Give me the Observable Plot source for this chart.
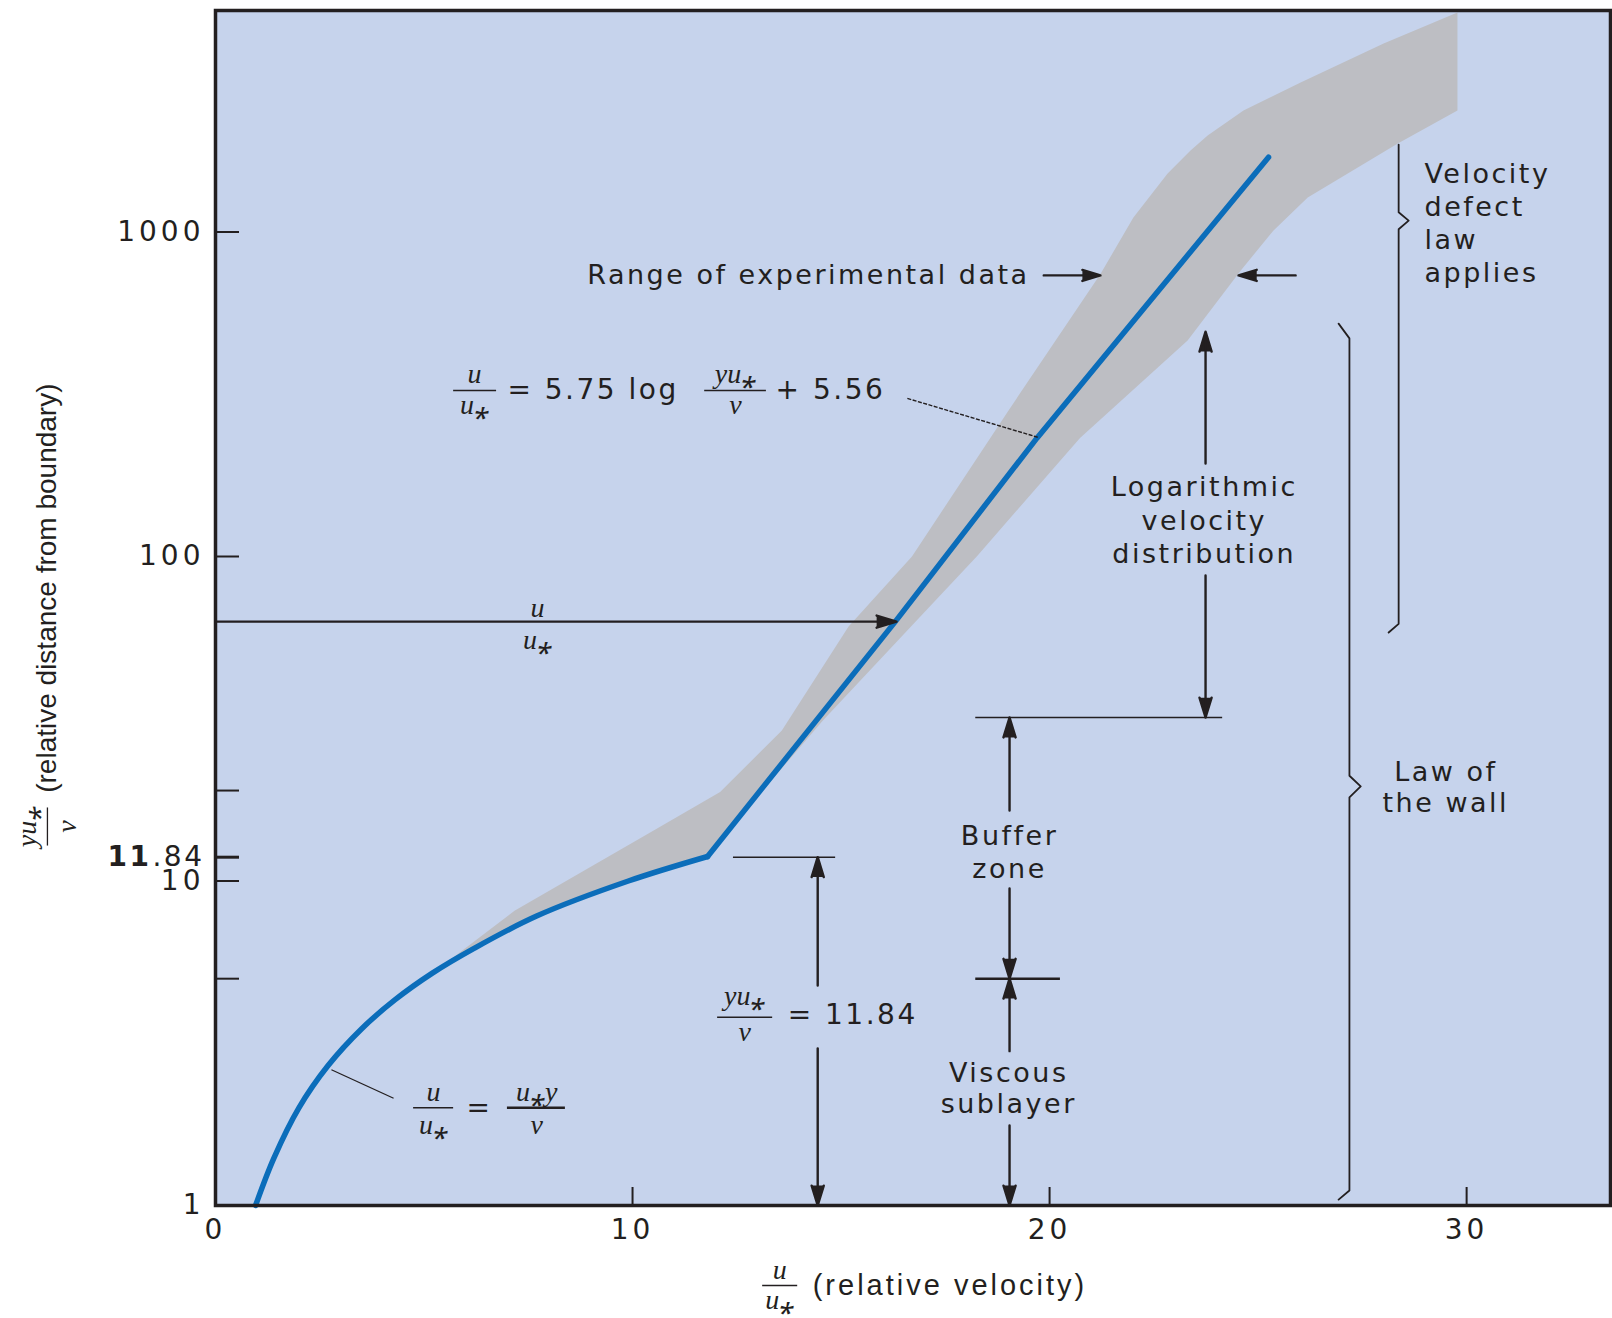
<!DOCTYPE html>
<html>
<head>
<meta charset="utf-8">
<script src="https://cdn.jsdelivr.net/npm/d3@7"></script>
<script src="https://cdn.jsdelivr.net/npm/@observablehq/plot@0.6"></script>
<style>
  html, body { margin: 0; padding: 0; background: #ffffff; }
  g[font-family="DejaVu Sans"] text { letter-spacing: 2.5px; }
  g[aria-label="y-axis tick label"] text, g[aria-label="x-axis tick label"] text { letter-spacing: 4px; }
</style>
</head>
<body>
<div id="chart"></div>
<script>
// ---------------- data ----------------
const xTicks = [0, 10, 20, 30];
const yTickValues = [1, 5, 10, 100, 1000];
const yTickLabels = ["1", "5", "10", "100", "1000"];
const yExtraTicks = [11.84, 19];

// blue curve, viscous sublayer part (u/u* = u*y/v)
const viscousX = [0.96, 1.4, 2.0, 2.7, 3.5, 4.3, 5.2, 6.2, 7.7, 9.9, 11.8];
const viscousY = [1.0, 1.4, 2.0, 2.7, 3.5, 4.3, 5.2, 6.2, 7.8, 10.0, 11.9];
// blue curve, logarithmic part
const logLawX = [11.8, 16.3, 19.7, 25.25];
const logLawY = [11.9, 63, 232, 1700];

// range of experimental data (grey band)
const bandUpperX = [5.2, 7.17, 10.62, 12.1, 13.58, 15.18, 16.7, 19.0, 21.22, 22.01, 22.83, 23.38, 23.79, 24.65, 26.02, 28.01, 29.78];
const bandUpperY = [5.2, 8.1, 14.6, 18.8, 29.1, 60.9, 100, 280, 742, 1109, 1514, 1783, 1983, 2367, 2890, 3811, 4750];
const bandLowerX = [29.78, 28.35, 26.19, 25.37, 24.58, 23.31, 20.73, 18.27, 16.79, 14.57, 12.8, 11.8];
const bandLowerY = [2367, 1875, 1277, 1011, 760, 463, 232, 100.6, 63.0, 31.3, 17, 11.9];

// ---------------- layout / style ----------------
const W = 1612, H = 1318;
const mL = 215, mR = 2, mT = 10, mB = 113;
const frameW = W - mL - mR, frameH = H - mT - mB;
const ink = "#231f20";
const plotBg = "#c6d3ec";
const bandFill = "#bdbec3";
const blue = "#0b6dba";
const sans = "DejaVu Sans";
const serif = "Liberation Serif";

const pts = (xs, ys) => xs.map((x, i) => ({x, y: ys[i]}));
const viscous = pts(viscousX, viscousY);
const logLaw = pts(logLawX, logLawY);
const band = [
  ...pts(bandUpperX, bandUpperY),
  ...pts(bandLowerX, bandLowerY),
  ...viscous.filter(d => d.x > 5.5 && d.x < 11).reverse()
];

// annotation geometry (data coordinates)
const arrows = [
  {x1: 0, y1: 63, x2: 16.33, y2: 63},
  {x1: 19.86, y1: 735, x2: 21.22, y2: 735},
  {x1: 25.9, y1: 735, x2: 24.53, y2: 735},
  {x1: 23.74, y1: 193.5, x2: 23.74, y2: 493},
  {x1: 23.74, y1: 87.4, x2: 23.74, y2: 31.9},
  {x1: 19.04, y1: 16.5, x2: 19.04, y2: 31.9},
  {x1: 19.04, y1: 9.48, x2: 19.04, y2: 5},
  {x1: 19.04, y1: 2.99, x2: 19.04, y2: 5},
  {x1: 19.04, y1: 1.764, x2: 19.04, y2: 1},
  {x1: 14.44, y1: 4.76, x2: 14.44, y2: 11.84},
  {x1: 14.44, y1: 3.05, x2: 14.44, y2: 1}
];
const hRules = [
  {x1: 18.23, x2: 24.15, y: 31.9, w: 1.6},
  {x1: 18.23, x2: 20.26, y: 5, w: 2.6},
  {x1: 12.42, x2: 14.87, y: 11.84, w: 1.6},
  // fraction bars
  {x1: 5.71, x2: 6.74, y: 325, w: 1.5},
  {x1: 11.73, x2: 13.21, y: 325, w: 1.5},
  {x1: 12.04, x2: 13.36, y: 3.80, w: 1.5},
  {x1: 4.75, x2: 5.71, y: 2.0, w: 1.5},
  {x1: 7.0, x2: 8.39, y: 2.0, w: 2.6},
  {x1: 13.12, x2: 13.96, y: 0.567, w: 1.5}
];
const leaderEq = [{x1: 16.59, y1: 307, x2: 19.74, y2: 232.6}];
const leaders = [
  {x1: 2.78, y1: 2.62, x2: 4.27, y2: 2.14},
  {x1: -4.03, y1: 16.85, x2: -4.03, y2: 12.86}
];
const braceDefect = pts(
  [28.37, 28.37, 28.61, 28.37, 28.37, 28.13],
  [1860, 1150, 1084, 1020, 62, 58.3]
);
const braceWall = pts(
  [26.93, 27.19, 27.19, 27.46, 27.19, 27.19, 26.93],
  [522, 470, 21.1, 19.56, 18.1, 1.112, 1.043]
);

const sansLabels = [
  {t: "Range of experimental data", x: 19.52, y: 735, a: "end", lh: 1},
  {t: "Velocity\ndefect\nlaw\napplies", x: 28.99, y: 1074, a: "start", lh: 1.22},
  {t: "Logarithmic\nvelocity\ndistribution", x: 23.71, y: 130.5, a: "middle", lh: 1.24},
  {t: "Law of\nthe wall", x: 29.5, y: 19.49, a: "middle", lh: 1.15},
  {t: "Buffer\nzone", x: 19.04, y: 12.37, a: "middle", lh: 1.22},
  {t: "Viscous\nsublayer", x: 19.02, y: 2.31, a: "middle", lh: 1.17}
];
const eqLabels = [
  {t: "= 5.75 log", x: 7.0, y: 325, a: "start"},
  {t: "+ 5.56", x: 13.43, y: 325, a: "start"},
  {t: "= 11.84", x: 13.72, y: 3.85, a: "start"},
  {t: "=", x: 6.33, y: 2.0, a: "middle"}
];
const mathLabels = [
  {t: "u", x: 6.21, y: 364}, {t: "u⁎", x: 6.21, y: 292},
  {t: "yu⁎", x: 12.47, y: 364}, {t: "ν", x: 12.47, y: 292},
  {t: "u", x: 7.72, y: 69.2}, {t: "u⁎", x: 7.72, y: 55.1},
  {t: "yu⁎", x: 12.69, y: 4.42}, {t: "ν", x: 12.69, y: 3.42},
  {t: "u", x: 5.23, y: 2.24}, {t: "u⁎", x: 5.23, y: 1.77},
  {t: "u⁎y", x: 7.70, y: 2.24}, {t: "ν", x: 7.70, y: 1.77},
  {t: "u", x: 13.53, y: 0.631}, {t: "u⁎", x: 13.53, y: 0.51}
];
const yLabelMath = [
  {t: "yu⁎", x: -4.51, y: 14.72}, {t: "ν", x: -3.57, y: 14.72}
];

const chart = Plot.plot({
  width: W, height: H,
  marginLeft: mL, marginRight: mR, marginTop: mT, marginBottom: mB,
  x: {domain: [0, 33.45]},
  y: {type: "log", domain: [1, 4815]},
  style: {color: ink, background: "#ffffff", fontFamily: sans},
  marks: [
    Plot.frame({fill: plotBg, stroke: "none"}),
    Plot.line(band, {x: "x", y: "y", fill: bandFill, stroke: "none", curve: "linear"}),
    Plot.line(viscous, {x: "x", y: "y", stroke: blue, strokeWidth: 5.5, curve: "catmull-rom"}),
    Plot.line(logLaw, {x: "x", y: "y", stroke: blue, strokeWidth: 5.5, curve: "linear"}),
    // axes
    Plot.tickX(xTicks.filter(d => d > 0), {x: d => d, insetTop: frameH - 18, stroke: ink, strokeWidth: 2}),
    Plot.tickY([...yTickValues, ...yExtraTicks].filter(d => d > 1), {y: d => d, insetRight: frameW - 24, stroke: ink, strokeWidth: d => d === 11.84 ? 3 : 2}),
    Plot.axisX({ticks: xTicks, tickSize: 0, tickPadding: 14, fontSize: 28, fontFamily: sans, tickFormat: d => String(d), label: null}),
    Plot.axisY({ticks: yTickValues, tickSize: 0, tickPadding: 11, fontSize: 28, fontFamily: sans, tickFormat: d => yTickLabels[yTickValues.indexOf(d)], label: null}),
    Plot.text([".84"], {text: d => d, x: 0, y: 11.84, dx: -11, textAnchor: "end", fontSize: 28, fontFamily: sans}),
    Plot.text(["11"], {text: d => d, x: 0, y: 11.84, dx: -64, textAnchor: "end", fontSize: 28, fontFamily: sans, fontWeight: "bold"}),
    // annotation lines
    Plot.ruleY(hRules, {y: "y", x1: "x1", x2: "x2", stroke: ink, strokeWidth: "w"}),
    Plot.link(leaders, {x1: "x1", y1: "y1", x2: "x2", y2: "y2", stroke: ink, strokeWidth: 1.3}),
    Plot.link(leaderEq, {x1: "x1", y1: "y1", x2: "x2", y2: "y2", stroke: ink, strokeWidth: 1.4, strokeDasharray: "4,1.5"}),
    Plot.arrow(arrows, {x1: "x1", y1: "y1", x2: "x2", y2: "y2", stroke: ink, fill: ink, strokeWidth: 2.4, headLength: 13, headAngle: 34}),
    Plot.line(braceDefect, {x: "x", y: "y", stroke: ink, strokeWidth: 1.8}),
    Plot.line(braceWall, {x: "x", y: "y", stroke: ink, strokeWidth: 1.8}),
    // texts
    ...sansLabels.map(d => Plot.text([d], {x: "x", y: "y", text: "t", textAnchor: d.a, lineHeight: d.lh, fontSize: 27, fontFamily: sans, fill: ink})),
    ...["start", "middle"].map(a => Plot.text(eqLabels.filter(d => d.a === a), {x: "x", y: "y", text: "t", textAnchor: a, fontSize: 28, fontFamily: sans, fill: ink})),
    Plot.text(mathLabels, {x: "x", y: "y", text: "t", fontSize: 28, fontFamily: serif, fontStyle: "italic", fill: ink}),
    Plot.text(["(relative velocity)"], {text: d => d, x: 14.32, y: 0.567, textAnchor: "start", fontSize: 29, fontFamily: "Liberation Sans", fill: ink}),
    Plot.text(yLabelMath, {x: "x", y: "y", text: "t", rotate: -90, fontSize: 28, fontFamily: serif, fontStyle: "italic", fill: ink}),
    Plot.text(["(relative distance from boundary)"], {text: d => d, x: -4.03, y: 18.7, rotate: -90, textAnchor: "start", fontSize: 28, fontFamily: "Liberation Sans", fill: ink}),
    Plot.frame({stroke: ink, strokeWidth: 3.5})
  ]
});

document.getElementById("chart").appendChild(chart);

// wider tracking of the x-axis title, as in the original
d3.select(chart).selectAll("text")
  .filter(function () { return this.textContent === "(relative velocity)"; })
  .style("letter-spacing", "3px");
</script>
</body>
</html>
